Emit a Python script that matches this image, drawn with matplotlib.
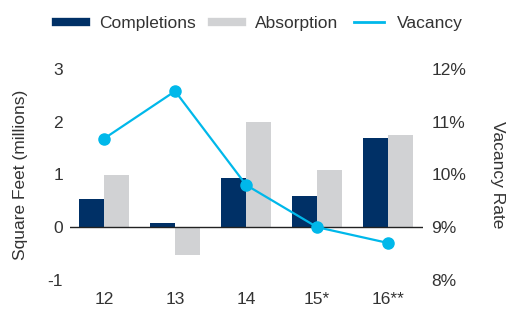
import numpy as np
import matplotlib.pyplot as plt
from matplotlib.lines import Line2D

years = ['12', '13', '14', '15*', '16**']
completions = [0.53, 0.08, 0.93, 0.59, 1.69]
absorption = [0.99, -0.52, 2.00, 1.08, 1.75]
vacancy = [10.68, 11.58, 9.80, 9.00, 8.70]

navy = '#003066'
grey = '#d1d2d4'
cyan = '#00b8ea'
txt = '#333333'

plt.rcParams['font.family'] = ['Liberation Sans', 'DejaVu Sans']
fs = 12.5

fig = plt.figure(figsize=(5.09, 3.21), dpi=100)
ax = fig.add_axes([0.1375, 0.128, 0.6935, 0.657])
ax2 = ax.twinx()

x = np.arange(len(years))
w = 0.35
ax.bar(x - w / 2, completions, w, color=navy, zorder=2)
ax.bar(x + w / 2, absorption, w, color=grey, zorder=2)
ax.axhline(0, color='#222222', lw=1, zorder=3)

ax.set_xlim(-0.48, 4.49)
ax.set_ylim(-1, 3)
ax.set_yticks([-1, 0, 1, 2, 3])
ax.set_yticklabels(['-1', '0', '1', '2', '3'])
ax.set_xticks(x)
ax.set_xticklabels(years)
ax.set_ylabel('Square Feet (millions)', color=txt, fontsize=fs, labelpad=14)

ax2.plot(x, vacancy, color=cyan, lw=1.6, marker='o', markersize=8, zorder=4)
ax2.set_ylim(8, 12)
ax2.set_yticks([8, 9, 10, 11, 12])
ax2.set_yticklabels(['8%', '9%', '10%', '11%', '12%'])
ax2.set_ylabel('Vacancy Rate', color=txt, fontsize=fs, rotation=270, labelpad=28)

for a in (ax, ax2):
    for s in a.spines.values():
        s.set_visible(False)
    a.tick_params(length=0, colors=txt, labelsize=fs)
ax.tick_params(axis='x', pad=9)
ax.tick_params(axis='y', pad=5)
ax2.tick_params(axis='y', pad=6)

handles = [
    Line2D([], [], color=navy, lw=6),
    Line2D([], [], color=grey, lw=6),
    Line2D([], [], color=cyan, lw=2),
]
fig.legend(handles, ['Completions', 'Absorption', 'Vacancy'], loc='center',
           bbox_to_anchor=(0.51, 0.928), ncol=3, frameon=False, fontsize=fs,
           handlelength=1.7, handletextpad=0.75, columnspacing=0.95,
           labelcolor=txt)

fig.savefig('out.png', dpi=100)
